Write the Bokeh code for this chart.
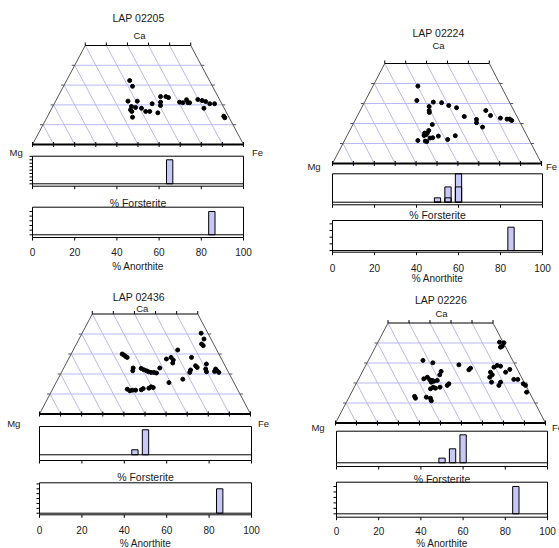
from bokeh.plotting import figure
from bokeh.models import Range1d
from bokeh.embed import file_html
from bokeh.resources import INLINE
from bokeh.core.properties import value

# ---------------- data ----------------
titles = ["LAP 02205", "LAP 02224", "LAP 02436", "LAP 02226"]

# pyroxene compositions: Wo (Ca) and Fs (Fe) mol %
A_wo = [32.3, 29.4, 21.9, 21.9, 19.2, 18.7, 17.5, 16.7, 13.8, 18.3, 16.7, 16.7, 20.6, 16.0,
        24.2, 21.4, 19.7, 24.2, 23.7, 21.4, 21.1, 22.6, 21.1, 21.1, 22.7, 22.2, 21.7, 20.6,
        20.6, 18.3, 14.3, 13.5]
A_fs = [29.9, 32.7, 34.3, 38.7, 37.3, 39.5, 37.7, 38.7, 40.5, 42.5, 45.3, 47.2, 46.4, 51.4,
        48.6, 50.0, 50.8, 51.1, 52.6, 59.0, 60.7, 61.7, 63.1, 63.9, 67.0, 69.3, 71.2, 73.7,
        76.0, 72.1, 83.5, 84.4]

B_wo = [38.7, 31.5, 28.5, 30.7, 26.5, 25.5, 30.4, 29.0, 27.9, 23.5, 22.0, 20.4, 26.5, 24.0,
        18.2, 22.7, 22.2, 22.2, 21.5, 19.5, 16.5, 15.2, 14.4, 15.2, 11.2, 12.7, 12.9, 13.7,
        11.5, 11.0, 12.0, 13.9, 14.0]
B_fs = [21.5, 24.6, 32.0, 32.9, 33.0, 33.6, 37.0, 41.1, 45.4, 51.3, 57.9, 58.7, 60.1, 63.6,
        62.7, 69.0, 72.4, 73.7, 75.0, 38.0, 37.8, 37.8, 37.6, 36.5, 38.8, 40.3, 41.5, 43.8,
        35.1, 39.6, 49.1, 51.8, 36.8]

C_wo = [30.0, 29.5, 28.8, 28.3, 23.0, 21.6, 22.8, 22.1, 21.6, 21.1, 20.8, 20.8, 20.5, 23.0,
        27.5, 28.3, 27.0, 25.5, 32.0, 28.3, 22.0, 20.8, 24.1, 23.3, 40.4, 37.5, 35.0, 34.2,
        25.0, 22.5, 21.1, 22.5, 21.6, 20.8, 21.3, 15.7, 17.4, 12.4, 11.6, 11.9, 11.9, 12.1,
        12.7, 12.9, 13.6, 13.2]
C_fs = [24.2, 25.2, 26.4, 27.4, 32.9, 33.4, 36.8, 38.4, 39.9, 41.2, 42.5, 43.8, 45.2, 45.5,
        46.4, 48.2, 49.9, 50.4, 49.5, 57.9, 60.6, 60.8, 61.9, 63.1, 56.4, 59.2, 59.3, 60.5,
        66.6, 67.5, 68.6, 72.2, 73.4, 74.6, 72.3, 53.5, 59.2, 35.4, 37.0, 38.0, 39.6, 42.2,
        42.8, 45.4, 46.1, 47.3]

D_wo = [40.4, 40.1, 37.9, 38.4, 31.3, 30.1, 29.1, 27.4, 26.6, 27.9, 28.8, 28.4, 25.4, 24.1,
        22.9, 25.4, 26.8, 21.8, 21.8, 20.4, 20.4, 18.8, 19.6, 18.8, 15.4, 25.8, 24.1, 22.1,
        21.6, 21.3, 20.9, 20.4, 21.3, 22.9, 17.9, 17.1, 17.4, 17.9, 18.8, 19.6, 13.3, 12.4,
        12.9, 12.4, 11.1]
D_fs = [57.9, 60.1, 59.6, 60.2, 26.0, 31.3, 44.2, 50.6, 50.2, 61.5, 62.6, 64.4, 61.1, 62.6,
        62.0, 68.3, 69.6, 74.0, 75.9, 64.1, 68.4, 68.4, 79.6, 81.1, 83.3, 37.4, 37.6, 31.0,
        34.1, 35.4, 36.4, 35.4, 37.8, 32.3, 37.6, 36.7, 38.9, 40.8, 43.8, 44.2, 31.0, 31.9,
        36.8, 39.0, 40.1]

# histograms: bin centres and counts
A_fo_x, A_fo_n = [65], [7]
A_an_x, A_an_n = [85], [5]
B_fo_x, B_fo_n = [50, 55, 60], [2, 7, 13]
B_fo_inner = [0, 2, 7]
B_an_x, B_an_n = [85], [7]
C_fo_x, C_fo_n = [45, 50], [2, 10]
C_an_x, C_an_n = [85], [5]
D_fo_x, D_fo_n = [50, 55, 60], [2, 6, 12]
D_an_x, D_an_n = [85], [5]

x_ticks = [0, 20, 40, 60, 80, 100]
x_tick_labels = ["0", "20", "40", "60", "80", "100"]

# ---------------- style ----------------
FONT = value("Liberation Sans")
GRID = "#b9b9f2"
BAR = "#c8c8f6"
TXT = "#1a1a1a"
W, H = 559, 548

p = figure(width=W, height=H, x_range=Range1d(0, W), y_range=Range1d(0, H),
           x_axis_type=None, y_axis_type=None, toolbar_location=None,
           output_backend="svg", title=None,
           min_border_left=0, min_border_right=0, min_border_top=0, min_border_bottom=0)
p.outline_line_color = None
p.background_fill_color = "white"
p.border_fill_color = "white"

xr_d, yr_d = {}, {}


def add_ranges(px0, v0, px1, v1, py0, w0, py1, w1):
    """Sub-plot scale: pixel px0 -> v0, px1 -> v1 (x); py0 -> w0, py1 -> w1 (y, pixels downward)."""
    sx = (v1 - v0) / (px1 - px0)
    sy = (w1 - w0) / (py1 - py0)
    name = "r%d" % len(xr_d)
    xr_d[name] = Range1d(v0 - px0 * sx, v0 + (W - px0) * sx)
    yr_d[name] = Range1d(w0 + (H - py0) * sy, w0 - py0 * sy)

    def fx(px):
        return v0 + (px - px0) * sx

    def fy(py):
        return w0 + (py - py0) * sy
    return dict(x_range_name=name, y_range_name=name), fx, fy, abs(sx), abs(sy)


def ternary(tri, wo, fs, title, labs):
    x0, x1, yt, yb = tri
    kw, fx, fy, ux, uy = add_ranges(x0, 0, x1, 100, yb, 0, yt, 50)

    gx0, gy0, gx1, gy1 = [], [], [], []
    for w in (10, 20, 30, 40):                      # constant Ca
        gx0.append(w / 2); gy0.append(w); gx1.append(100 - w / 2); gy1.append(w)
    for m in range(10, 100, 10):                    # constant Mg
        gx0.append(100 - m); gy0.append(0)
        if m <= 50:
            gx1.append(75 - m); gy1.append(50)
        else:
            gx1.append((100 - m) / 2); gy1.append(100 - m)
    p.segment(gx0, gy0, gx1, gy1, line_color=GRID, line_width=1, **kw)

    p.segment([0, 100], [0, 0], [25, 75], [50, 50], line_color="#555555", line_width=1, **kw)
    p.segment([25], [50], [75], [50], line_color="black", line_width=1, **kw)
    p.segment([0], [0], [100], [0], line_color="black", line_width=2, **kw)

    tl = 3.0
    tx = [25 + 10 * i for i in range(6)]
    p.segment(tx, [50] * 6, tx, [50 + tl * uy] * 6, line_color="black", line_width=1, **kw)
    bx = [10 * i for i in range(11)]
    p.segment(bx, [-2.5 * uy] * 11, bx, [2.5 * uy] * 11, line_color="black", line_width=1, **kw)
    sw = [10, 20, 30, 40]
    p.segment([w / 2 - tl * ux for w in sw], sw, [w / 2 for w in sw], sw,
              line_color="#555555", line_width=1, **kw)
    p.segment([100 - w / 2 for w in sw], sw, [100 - w / 2 + tl * ux for w in sw], sw,
              line_color="#555555", line_width=1, **kw)

    xs = [f + w / 2 for w, f in zip(wo, fs)]
    p.scatter(xs, wo, size=4, marker="circle", fill_color="black", line_color="black", **kw)

    (tpx, tpy), (cpx, cpy), (mpx, mpy), (fpx, fpy) = labs
    p.text([fx(tpx)], [fy(tpy)], text=[title], text_font=FONT, text_font_size=value("10.5px"),
           text_align="center", text_baseline="middle", text_color=TXT, **kw)
    p.text([fx(cpx), fx(mpx), fx(fpx)], [fy(cpy), fy(mpy), fy(fpy)], text=["Ca", "Mg", "Fe"],
           text_font=FONT, text_font_size=value("9.5px"), text_align="center",
           text_baseline="middle", text_color=TXT, **kw)


def hist(box, yext, xs, ns, yticks, label, label_y, label_size, tick_y=None, inner=None):
    L, R, T, B = box
    ymin, ymax = yext
    kw, fx, fy, ux, uy = add_ranges(L, 0, R, 100, B, ymin, T, ymax)
    p.vbar(x=xs, width=3, top=ns, bottom=0, fill_color=BAR, line_color="black", line_width=1, **kw)
    if inner is not None:
        p.vbar(x=xs, width=3, top=inner, bottom=0, fill_alpha=0, line_color="black",
               line_width=1, **kw)
    p.segment([0], [0], [100], [0], line_color="black", line_width=1, **kw)
    p.quad(left=[0], right=[100], bottom=[ymin], top=[ymax], fill_color=None,
           line_color="black", line_width=1, **kw)
    n = len(x_ticks)
    p.segment(x_ticks, [ymin] * n, x_ticks, [ymin - 3 * uy] * n, line_color="black",
              line_width=1, **kw)
    if yticks:
        m = len(yticks)
        p.segment([0] * m, yticks, [-3 * ux] * m, yticks, line_color="black", line_width=1, **kw)
    if tick_y is not None:
        p.text(x_ticks, [fy(tick_y)] * n, text=x_tick_labels, text_font=FONT,
               text_font_size=value("10px"), text_align="center", text_baseline="middle",
               text_color=TXT, **kw)
    p.text([50], [fy(label_y)], text=[label], text_font=FONT, text_font_size=value(label_size),
           text_align="center", text_baseline="middle", text_color=TXT, **kw)


# ---------------- panels (pixel boxes are layout only) ----------------
ternary((32, 243, 45, 144), A_wo, A_fs, titles[0],
        [(138, 17), (139, 35), (15.7, 151.7), (257, 151.7)])
hist((32, 243, 155.7, 185.7), (-0.7, 8.05), A_fo_x, A_fo_n, list(range(0, 9)),
     "% Forsterite", 202, "10.5px")
hist((32, 243, 206.7, 237), (-0.58, 5.92), A_an_x, A_an_n, list(range(0, 6)),
     "% Anorthite", 266, "10px", tick_y=251.7)

ternary((332, 541, 63, 163), B_wo, B_fs, titles[1],
        [(438, 32), (438, 45), (313.5, 165.7), (551, 165.7)])
hist((332, 542, 173.3, 204.3), (-1.19, 13.0), B_fo_x, B_fo_n, None,
     "% Forsterite", 214.3, "10.5px", inner=B_fo_inner)
hist((332, 542, 220, 251.7), (-0.5, 9.0), B_an_x, B_an_n, [0, 2, 4, 6, 8],
     "% Anorthite", 278, "10px", tick_y=267.5)

ternary((39, 250, 313.5, 413.5), C_wo, C_fs, titles[2],
        [(138.3, 296.7), (141.7, 307.7), (13.3, 422.7), (263, 422.7)])
hist((39, 251, 426, 460), (-2.28, 11.3), C_fo_x, C_fo_n, None,
     "% Forsterite", 476, "10.5px")
hist((39, 251, 482.3, 514.3), (-0.33, 6.23), C_an_x, C_an_n, list(range(0, 7)),
     "% Anorthite", 543, "10px", tick_y=529.3)

ternary((335, 545, 322.5, 422.5), D_wo, D_fs, titles[3],
        [(440.5, 299), (441, 313.3), (317.5, 426.7), (557, 426.7)])
hist((336, 547, 430.7, 466), (-1.59, 13.55), D_fo_x, D_fo_n, None,
     "% Forsterite", 478.3, "10.5px")
hist((336, 547, 481.7, 516.7), (-0.62, 5.79), D_an_x, D_an_n, list(range(0, 6)),
     "% Anorthite", 543, "10px", tick_y=530.5)

p.extra_x_ranges = xr_d
p.extra_y_ranges = yr_d

open("out.html", "w").write(file_html(p, INLINE))
